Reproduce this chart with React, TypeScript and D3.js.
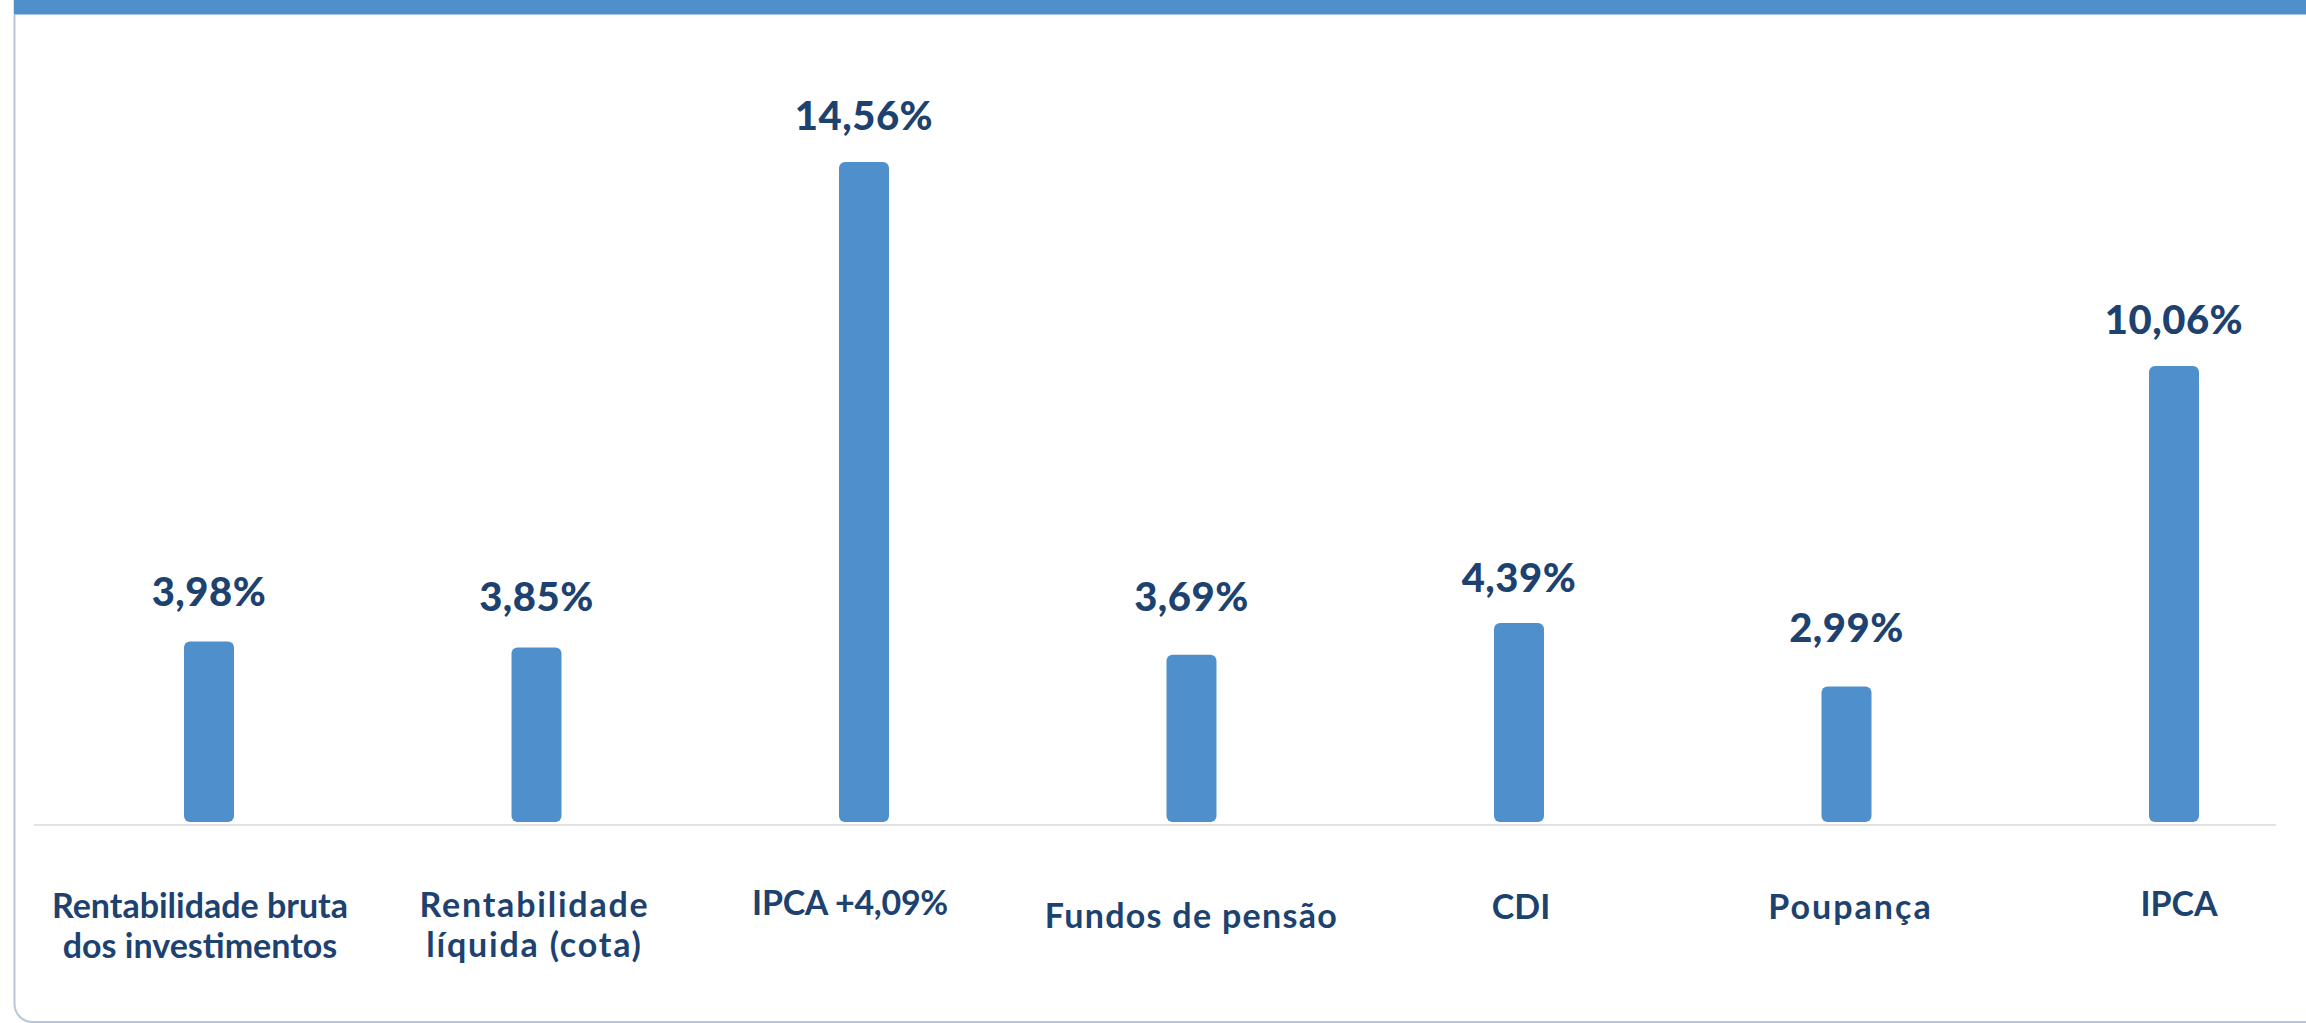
import React from "react";
import * as d3 from "d3";

const categories: string[][] = [
  ["Rentabilidade bruta", "dos investimentos"],
  ["Rentabilidade", "líquida (cota)"],
  ["IPCA +4,09%"],
  ["Fundos de pensão"],
  ["CDI"],
  ["Poupança"],
  ["IPCA"],
];
const values: number[] = [3.98, 3.85, 14.56, 3.69, 4.39, 2.99, 10.06];
const valueLabels: string[] = ["3,98%", "3,85%", "14,56%", "3,69%", "4,39%", "2,99%", "10,06%"];

// layout tweaks (style only)
const labelDx: number[] = [-9, -2, -14, 0, 2, 4, 5];
const labelBaseline: number[] = [918, 917, 915, 928, 919, 919, 916];
const labelLetterSpacing: number[] = [0, 1.8, -0.3, 1.3, 0, 2, 0];
const valueDy: number[] = [-7, -7, -3, -15, -2, -15, -3];

const W = 2306;
const H = 1023;
const BAR = "#4f8fcc";
const TEXT = "#1d4270";
const FONT = "Lato, 'Open Sans', sans-serif";

export default function App() {
  const keys = categories.map((_, i) => String(i));
  const x = d3.scalePoint<string>().domain(keys).range([209, 2174]);
  const y = d3.scaleLinear().domain([0, 15]).range([822, 142]);
  const bw = 50;

  return (
    <svg
      width={W}
      height={H}
      viewBox={`0 0 ${W} ${H}`}
      style={{ position: "absolute", left: 0, top: 0, background: "#fff" }}
    >
      <rect x={14.5} y={-30} width={W + 10} height={H + 29} rx={18} fill="#fff" stroke="#b9c6d8" strokeWidth={2} />
      <rect x={14} y={0} width={W - 14} height={14} fill={BAR} />
      <rect x={14} y={14} width={W - 14} height={1} fill="#a9c7e6" />
      <line x1={34} x2={2276} y1={825} y2={825} stroke="#e2e2e2" strokeWidth={2} />
      {values.map((v, i) => {
        const cx = x(String(i)) as number;
        const top = y(v);
        return (
          <g key={i}>
            <rect x={cx - bw / 2} y={top} width={bw} height={y(0) - top} rx={6} ry={6} fill={BAR} />
            <text
              x={cx}
              y={top - 29 + valueDy[i]}
              textAnchor="middle"
              fontFamily={FONT}
              fontWeight={900}
              fontSize={40}
              fill={TEXT}
              letterSpacing={0.5}
            >
              {valueLabels[i]}
            </text>
            <text
              x={cx + labelDx[i]}
              y={labelBaseline[i]}
              textAnchor="middle"
              fontFamily={FONT}
              fontWeight={700}
              fontSize={34}
              fill={TEXT}
              letterSpacing={labelLetterSpacing[i]}
            >
              {categories[i].map((line, j) => (
                <tspan key={j} x={cx + labelDx[i]} dy={j === 0 ? 0 : 40}>
                  {line}
                </tspan>
              ))}
            </text>
          </g>
        );
      })}
    </svg>
  );
}
